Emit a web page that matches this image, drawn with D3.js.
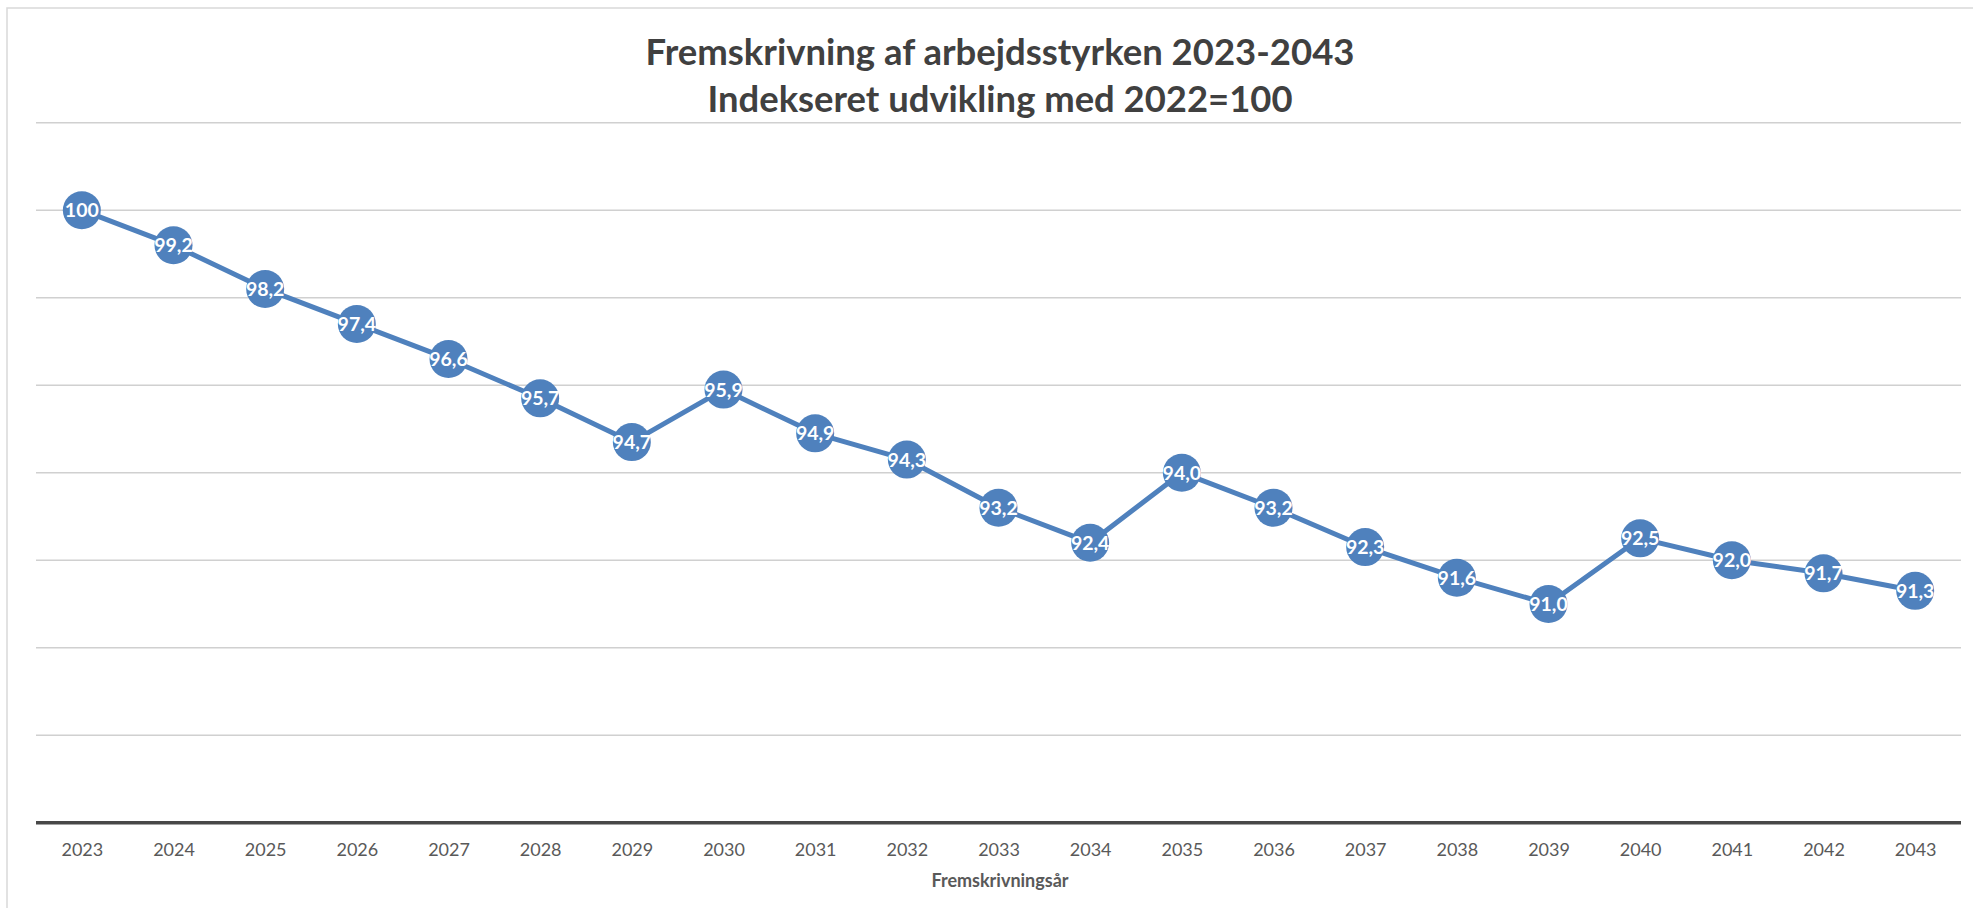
<!DOCTYPE html>
<html>
<head>
<meta charset="utf-8">
<script src="https://cdn.jsdelivr.net/npm/d3@7"></script>
<style>
  html, body { margin: 0; padding: 0; background: #fff; }
  svg { display: block; }
</style>
</head>
<body>
<svg id="chart" width="1973" height="908"></svg>
<script>
const YEARS = ['2023', '2024', '2025', '2026', '2027', '2028', '2029', '2030', '2031', '2032', '2033',
  '2034', '2035', '2036', '2037', '2038', '2039', '2040', '2041', '2042', '2043'];
const INDEX_VALUES = [100, 99.2, 98.2, 97.4, 96.6, 95.7, 94.7, 95.9, 94.9, 94.3, 93.2,
  92.4, 94.0, 93.2, 92.3, 91.6, 91.0, 92.5, 92.0, 91.7, 91.3];
const Y_TICKS = [86, 88, 90, 92, 94, 96, 98, 100, 102];
const TITLE_LINES = ['Fremskrivning af arbejdsstyrken 2023-2043', 'Indekseret udvikling med 2022=100'];
const X_TITLE = 'Fremskrivningsår';

function drawChart() {
  const svg = d3.select('#chart');
  const font = 'Lato, "Open Sans", sans-serif';

  const plot = { left: 36, right: 1961, top: 122.7, bottom: 822.7 };

  // chart frame (only left and top edges are inside the picture)
  svg.append('path')
    .attr('d', 'M7,908V8H1973')
    .attr('fill', 'none')
    .attr('stroke', '#d9d9d9')
    .attr('stroke-width', 1.5);

  const x = d3.scalePoint().domain(YEARS).range([plot.left, plot.right]).padding(0.5);
  const y = d3.scaleLinear().domain([86, 102]).range([plot.bottom, plot.top]);

  // gridlines
  svg.append('g')
    .selectAll('line')
    .data(Y_TICKS.filter(t => t !== 86))
    .enter()
    .append('line')
    .attr('x1', plot.left)
    .attr('x2', plot.right)
    .attr('y1', d => y(d))
    .attr('y2', d => y(d))
    .attr('stroke', '#d0d0d0')
    .attr('stroke-width', 1.5);

  // x axis
  const xAxis = svg.append('g')
    .attr('transform', `translate(0,${y(86)})`)
    .call(d3.axisBottom(x).tickSize(0).tickPadding(21));
  xAxis.select('.domain')
    .attr('d', `M${plot.left},0H${plot.right}`)
    .attr('stroke', '#484848')
    .attr('stroke-width', 3.5);
  xAxis.selectAll('text')
    .attr('font-family', font)
    .attr('font-size', 18)
    .attr('fill', '#595959');

  // title
  svg.append('g')
    .selectAll('text')
    .data(TITLE_LINES)
    .enter()
    .append('text')
    .attr('x', 1000)
    .attr('y', (d, i) => 65 + i * 47)
    .attr('text-anchor', 'middle')
    .attr('font-family', font)
    .attr('font-weight', 700)
    .attr('font-size', 36)
    .attr('fill', '#404040')
    .attr('textLength', (d, i) => (i === 0 ? 709 : 585))
    .attr('lengthAdjust', 'spacingAndGlyphs')
    .text(d => d);

  svg.append('text')
    .attr('x', 1000)
    .attr('y', 887)
    .attr('text-anchor', 'middle')
    .attr('font-family', font)
    .attr('font-weight', 700)
    .attr('font-size', 18)
    .attr('fill', '#595959')
    .text(X_TITLE);

  const points = YEARS.map((year, i) => ({ year, value: INDEX_VALUES[i] }));

  const line = d3.line().x(d => x(d.year)).y(d => y(d.value));
  svg.append('path')
    .datum(points)
    .attr('d', line)
    .attr('fill', 'none')
    .attr('stroke', '#4f81bd')
    .attr('stroke-width', 5)
    .attr('stroke-linejoin', 'round');

  const marks = svg.append('g')
    .selectAll('g')
    .data(points)
    .enter()
    .append('g')
    .attr('transform', d => `translate(${x(d.year)},${y(d.value)})`);

  marks.append('circle')
    .attr('r', 19)
    .attr('fill', '#4f81bd');

  marks.append('text')
    .text(d => (d.value === 100 ? '100' : d.value.toFixed(1).replace('.', ',')))
    .attr('text-anchor', 'middle')
    .attr('dy', '0.36em')
    .attr('font-family', font)
    .attr('font-weight', 700)
    .attr('font-size', 19.5)
    .attr('fill', '#fff');
}

window.addEventListener('DOMContentLoaded', drawChart);
</script>
</body>
</html>
